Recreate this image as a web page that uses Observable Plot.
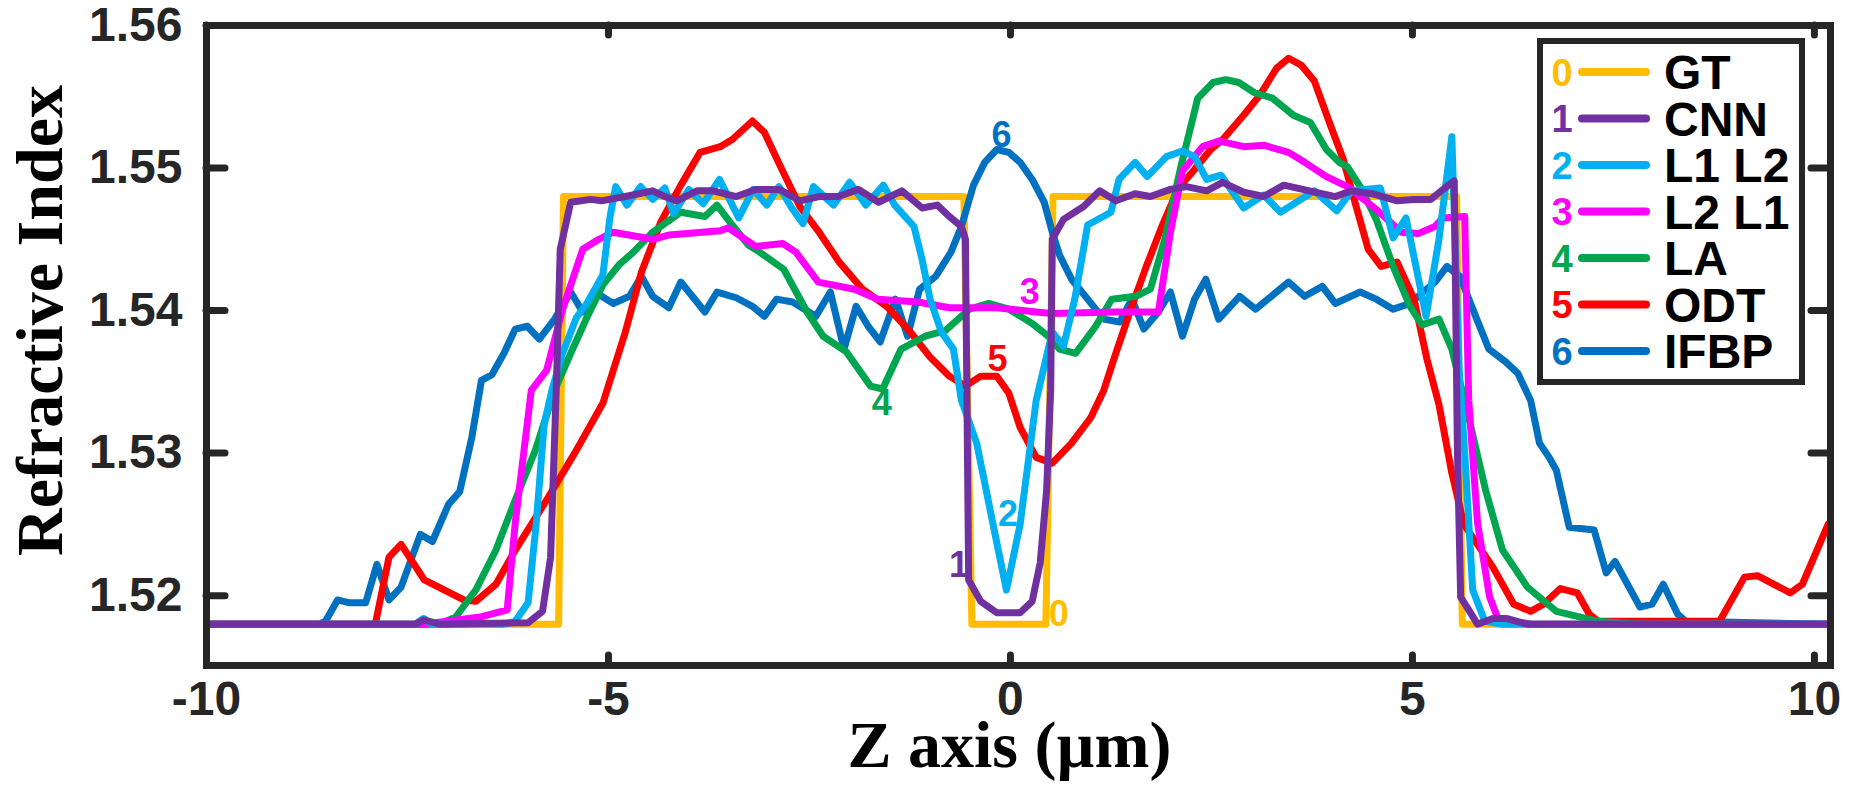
<!DOCTYPE html>
<html>
<head>
<meta charset="utf-8">
<script src="https://cdn.jsdelivr.net/npm/d3@7"></script>
<script src="https://cdn.jsdelivr.net/npm/@observablehq/plot@0.6"></script>
<style>
html, body { margin: 0; padding: 0; background: #ffffff; }
#chart svg { display: block; }
</style>
</head>
<body>
<div id="chart"></div>
<script>
// ---------- data ----------
const seriesNames   = ["GT", "CNN", "L1 L2", "L2 L1", "LA", "ODT", "IFBP"];
const seriesNumbers = ["0", "1", "2", "3", "4", "5", "6"];
const seriesColors  = ["#FFBC00", "#7030A0", "#00B0F0", "#FF00FF", "#00A550", "#FF0000", "#0070C0"];
const drawOrder     = ["GT", "IFBP", "ODT", "LA", "L2 L1", "L1 L2", "CNN"];

const xTicks = [-10, -5, 0, 5, 10];
const yTicks = [1.52, 1.53, 1.54, 1.55, 1.56];
const xTitle = "Z axis (µm)";
const yTitle = "Refractive Index";

const GT = [[-10,1.518],[-5.62,1.518],[-5.56,1.548],[-0.58,1.548],[-0.48,1.518],[0.44,1.518],[0.53,1.548],[5.55,1.548],[5.62,1.518],[10.2,1.518]];

const CNN = [[-10,1.518],[-7.4,1.518],[-7.3,1.5183],[-7.1,1.518],[-6.0,1.5181],[-5.82,1.5189],[-5.72,1.5227],[-5.65,1.5344],[-5.6,1.5443],[-5.47,1.5476],[-5.22,1.5478],[-5.09,1.5477],[-4.79,1.548],[-4.45,1.5484],[-4.3,1.548],[-4.15,1.5477],[-3.9,1.5484],[-3.7,1.5484],[-3.41,1.548],[-3.17,1.5485],[-2.87,1.5485],[-2.62,1.5477],[-2.38,1.548],[-2.14,1.548],[-1.89,1.5485],[-1.64,1.5476],[-1.35,1.5484],[-1.1,1.5472],[-0.91,1.5474],[-0.76,1.5466],[-0.61,1.5459],[-0.56,1.545],[-0.52,1.5211],[-0.37,1.5196],[-0.17,1.5188],[0.12,1.5188],[0.27,1.5196],[0.37,1.5223],[0.45,1.5274],[0.5,1.5344],[0.52,1.545],[0.66,1.5464],[0.91,1.5473],[1.11,1.5484],[1.31,1.5477],[1.55,1.5482],[1.74,1.548],[1.99,1.5485],[2.19,1.5487],[2.44,1.5484],[2.64,1.549],[2.9,1.5483],[3.15,1.548],[3.4,1.5488],[3.72,1.5484],[4.04,1.548],[4.24,1.5484],[4.5,1.5482],[4.81,1.5477],[5.02,1.5478],[5.23,1.5478],[5.38,1.5485],[5.52,1.5491],[5.56,1.53],[5.6,1.5199],[5.81,1.518],[6.0,1.5184],[6.17,1.5184],[6.43,1.518],[10.2,1.518]];

const L1L2 = [[-10,1.518],[-7.4,1.518],[-7.3,1.5184],[-7.2,1.518],[-6.3,1.518],[-6.16,1.5182],[-6.0,1.5195],[-5.9,1.525],[-5.8,1.532],[-5.7,1.5345],[-5.57,1.537],[-5.4,1.5395],[-5.27,1.5405],[-5.07,1.5425],[-4.98,1.5466],[-4.91,1.5487],[-4.77,1.5474],[-4.6,1.5487],[-4.45,1.5478],[-4.3,1.5486],[-4.19,1.5468],[-4.0,1.5485],[-3.82,1.5475],[-3.62,1.5492],[-3.38,1.5465],[-3.2,1.5485],[-3.03,1.5474],[-2.88,1.5487],[-2.72,1.5472],[-2.58,1.5461],[-2.45,1.5487],[-2.2,1.5474],[-2.0,1.549],[-1.8,1.5474],[-1.58,1.5488],[-1.44,1.5474],[-1.2,1.5459],[-1.1,1.5436],[-1.0,1.5408],[-0.86,1.5385],[-0.71,1.5373],[-0.61,1.5337],[-0.42,1.5307],[-0.22,1.5251],[-0.05,1.5204],[0.12,1.525],[0.32,1.5337],[0.52,1.5385],[0.66,1.5375],[0.8,1.5408],[0.96,1.546],[1.25,1.5469],[1.35,1.5492],[1.55,1.5504],[1.7,1.5494],[1.94,1.5508],[2.14,1.5512],[2.29,1.5508],[2.44,1.5492],[2.62,1.5495],[2.9,1.5472],[3.15,1.5481],[3.36,1.5469],[3.78,1.5484],[4.06,1.547],[4.24,1.5484],[4.6,1.5486],[4.76,1.5451],[4.92,1.5465],[5.17,1.5396],[5.33,1.545],[5.49,1.5522],[5.58,1.536],[5.65,1.53],[5.75,1.5204],[5.9,1.5182],[6.1,1.518],[10.2,1.518]];

const L2L1 = [[-10,1.518],[-7.3,1.518],[-6.6,1.5185],[-6.26,1.519],[-6.16,1.5251],[-5.96,1.5344],[-5.77,1.5358],[-5.57,1.5401],[-5.32,1.5443],[-5.12,1.545],[-4.94,1.5455],[-4.45,1.545],[-4.25,1.5453],[-3.61,1.5456],[-3.51,1.5458],[-3.17,1.5445],[-2.83,1.5447],[-2.67,1.5441],[-2.39,1.542],[-1.94,1.5415],[-1.65,1.5408],[-1.15,1.5406],[-0.76,1.5402],[-0.17,1.5402],[0.32,1.5399],[0.52,1.5398],[1.3,1.5399],[1.84,1.5399],[1.99,1.5455],[2.14,1.5498],[2.39,1.5515],[2.59,1.5519],[2.9,1.5515],[3.15,1.5516],[3.46,1.5511],[3.66,1.5504],[3.93,1.5494],[4.19,1.5487],[4.55,1.5471],[4.86,1.5455],[5.07,1.5454],[5.28,1.5459],[5.38,1.5465],[5.65,1.5466],[5.7,1.5337],[5.81,1.5251],[5.96,1.5199],[6.07,1.5183],[6.5,1.518],[10.2,1.518]];

const LA = [[-10,1.518],[-7.1,1.518],[-6.9,1.5185],[-6.65,1.5204],[-6.4,1.5232],[-6.16,1.5267],[-5.91,1.5302],[-5.67,1.5344],[-5.47,1.537],[-5.27,1.5395],[-5.07,1.5418],[-4.87,1.5432],[-4.69,1.5441],[-4.45,1.5455],[-4.1,1.5469],[-3.8,1.5466],[-3.65,1.5474],[-3.46,1.546],[-3.26,1.5446],[-3.12,1.5441],[-2.82,1.5429],[-2.53,1.5399],[-2.33,1.5382],[-2.04,1.5371],[-1.74,1.5347],[-1.59,1.5345],[-1.36,1.5373],[-1.06,1.5382],[-0.81,1.5386],[-0.51,1.5401],[-0.27,1.5405],[-0.02,1.5401],[0.27,1.5391],[0.47,1.5382],[0.61,1.5373],[0.81,1.537],[1.06,1.5389],[1.26,1.5408],[1.56,1.541],[1.74,1.5415],[1.92,1.545],[2.12,1.5501],[2.33,1.5549],[2.52,1.556],[2.68,1.5562],[2.84,1.556],[3.03,1.5553],[3.26,1.5549],[3.52,1.5537],[3.73,1.5532],[3.93,1.5513],[4.09,1.5504],[4.19,1.5501],[4.35,1.5487],[4.55,1.5464],[4.76,1.5431],[4.97,1.5403],[5.12,1.539],[5.33,1.5394],[5.49,1.5373],[5.59,1.535],[5.7,1.5325],[5.91,1.5274],[6.12,1.5232],[6.43,1.5206],[6.79,1.5189],[7.31,1.5182],[7.8,1.518],[10.2,1.518]];

const ODT = [[-10,1.518],[-7.9,1.518],[-7.73,1.5227],[-7.58,1.5236],[-7.29,1.5211],[-6.8,1.5197],[-6.65,1.5196],[-6.4,1.5208],[-6.16,1.5232],[-5.77,1.5267],[-5.42,1.53],[-5.07,1.5335],[-4.79,1.5385],[-4.59,1.5427],[-4.35,1.5462],[-4.1,1.5488],[-3.86,1.5511],[-3.61,1.5515],[-3.46,1.552],[-3.21,1.5533],[-3.06,1.5525],[-2.86,1.5501],[-2.62,1.5473],[-2.38,1.5455],[-2.13,1.5434],[-1.84,1.5415],[-1.54,1.5403],[-1.26,1.5386],[-1.01,1.5368],[-0.76,1.5354],[-0.56,1.5347],[-0.37,1.5354],[-0.17,1.5354],[-0.02,1.5342],[0.12,1.5318],[0.32,1.5297],[0.52,1.5293],[0.76,1.5307],[1.0,1.5325],[1.16,1.5344],[1.31,1.537],[1.51,1.5403],[1.69,1.5431],[1.89,1.546],[2.09,1.5486],[2.29,1.5499],[2.49,1.5513],[2.64,1.552],[2.9,1.5537],[3.1,1.5551],[3.31,1.557],[3.46,1.5577],[3.62,1.5572],[3.78,1.5561],[3.98,1.553],[4.14,1.5506],[4.3,1.5473],[4.45,1.5443],[4.61,1.5431],[4.81,1.5434],[5.02,1.5408],[5.18,1.5366],[5.33,1.5334],[5.49,1.5286],[5.64,1.525],[6.0,1.522],[6.26,1.5194],[6.47,1.5189],[6.63,1.5194],[6.84,1.5205],[7.05,1.5202],[7.2,1.5187],[7.31,1.5182],[8.82,1.5182],[9.13,1.5213],[9.29,1.5214],[9.7,1.5202],[9.85,1.5208],[10.17,1.525]];

const IFBP = [[-10,1.518],[-8.6,1.518],[-8.52,1.5182],[-8.37,1.5197],[-8.22,1.5195],[-8.02,1.5195],[-7.88,1.5222],[-7.73,1.5197],[-7.58,1.5206],[-7.34,1.5243],[-7.19,1.5238],[-6.99,1.5264],[-6.85,1.5273],[-6.7,1.5311],[-6.58,1.5351],[-6.45,1.5355],[-6.3,1.537],[-6.16,1.5387],[-6.01,1.5389],[-5.86,1.538],[-5.67,1.5394],[-5.47,1.5413],[-5.32,1.5399],[-5.17,1.5413],[-4.94,1.5405],[-4.74,1.541],[-4.59,1.5424],[-4.45,1.541],[-4.25,1.5402],[-4.1,1.542],[-3.8,1.5399],[-3.65,1.5413],[-3.41,1.5409],[-3.21,1.5403],[-3.06,1.5396],[-2.91,1.5408],[-2.71,1.5406],[-2.42,1.5396],[-2.24,1.5413],[-2.07,1.5373],[-1.92,1.5403],[-1.77,1.5389],[-1.62,1.5378],[-1.43,1.5408],[-1.28,1.5382],[-1.13,1.5415],[-0.93,1.5424],[-0.74,1.5441],[-0.61,1.5459],[-0.46,1.5488],[-0.32,1.5504],[-0.17,1.5513],[-0.02,1.5511],[0.12,1.5504],[0.27,1.5492],[0.42,1.5476],[0.52,1.5455],[0.61,1.5439],[0.76,1.5422],[0.96,1.5408],[1.16,1.5394],[1.36,1.5392],[1.51,1.5408],[1.66,1.5387],[1.84,1.5399],[1.99,1.5413],[2.14,1.5382],[2.29,1.5408],[2.43,1.5422],[2.59,1.5394],[2.85,1.541],[3.05,1.5401],[3.46,1.542],[3.66,1.541],[3.88,1.5417],[4.04,1.5405],[4.35,1.5413],[4.55,1.5408],[4.76,1.5401],[4.97,1.5405],[5.28,1.542],[5.43,1.5431],[5.59,1.5424],[5.8,1.5394],[5.95,1.5373],[6.16,1.5364],[6.31,1.5356],[6.47,1.5337],[6.58,1.5307],[6.7,1.5297],[6.79,1.5288],[6.95,1.5248],[7.26,1.5246],[7.41,1.5216],[7.52,1.5224],[7.83,1.5192],[7.98,1.5194],[8.12,1.5208],[8.3,1.5187],[8.4,1.5182],[10.2,1.518]];

// numeric tags placed next to the curves (data coordinates)
const curveTags = [
  {name: "IFBP",  num: "6", x: -0.11, y: 1.5523},
  {name: "L2 L1", num: "3", x: 0.24,  y: 1.5413},
  {name: "ODT",   num: "5", x: -0.16, y: 1.5366},
  {name: "LA",    num: "4", x: -1.6,  y: 1.5335},
  {name: "L1 L2", num: "2", x: -0.03, y: 1.5257},
  {name: "CNN",   num: "1", x: -0.64, y: 1.5221},
  {name: "GT",    num: "0", x: 0.6,   y: 1.5187}
];

// ---------- build table ----------
const seriesData = {"GT": GT, "CNN": CNN, "L1 L2": L1L2, "L2 L1": L2L1, "LA": LA, "ODT": ODT, "IFBP": IFBP};
const table = drawOrder.flatMap(name => seriesData[name].map(([x, y]) => ({name, x, y})));

// ---------- layout ----------
const W = 1855, H = 795;
const M = {top: 25, right: 25, bottom: 130, left: 206};
const frameW = W - M.left - M.right;
const frameH = H - M.top - M.bottom;
const axisColor = "#262626";
const sans = "Liberation Sans, Arial, sans-serif";
const serif = "Liberation Serif, Times New Roman, serif";

function legend(index, scales, values, dims) {
  const g = d3.create("svg:g");
  const right = dims.width - dims.marginRight - 28;
  const top = dims.marginTop + 16;
  const boxW = 262, boxH = 341, rowH = 46.5;
  const left = right - boxW;
  g.append("rect")
    .attr("x", left).attr("y", top).attr("width", boxW).attr("height", boxH)
    .attr("fill", "#ffffff").attr("stroke", axisColor).attr("stroke-width", 6);
  seriesNames.forEach((name, i) => {
    const cy = top + 31 + i * rowH;
    const color = scales.color(name);
    g.append("text")
      .attr("x", left + 22).attr("y", cy).attr("dy", "0.36em")
      .attr("text-anchor", "middle")
      .attr("font-family", sans).attr("font-weight", "bold").attr("font-size", 38)
      .attr("fill", color).text(seriesNumbers[i]);
    g.append("line")
      .attr("x1", left + 42).attr("x2", left + 106).attr("y1", cy).attr("y2", cy)
      .attr("stroke", color).attr("stroke-width", 8).attr("stroke-linecap", "round");
    g.append("text")
      .attr("x", left + 124).attr("y", cy).attr("dy", "0.36em")
      .attr("text-anchor", "start")
      .attr("font-family", sans).attr("font-weight", "bold").attr("font-size", 48)
      .attr("fill", "#000000").text(name);
  });
  return g.node();
}

const chart = Plot.plot({
  width: W,
  height: H,
  marginTop: M.top,
  marginRight: M.right,
  marginBottom: M.bottom,
  marginLeft: M.left,
  style: {background: "#ffffff", fontFamily: sans, overflow: "visible"},
  x: {domain: [-10, 10.2]},
  y: {domain: [1.5151, 1.56]},
  color: {domain: seriesNames, range: seriesColors},
  marks: [
    Plot.line(table, {
      x: "x", y: "y", z: "name", stroke: "name",
      strokeWidth: 7, strokeLinejoin: "round", strokeLinecap: "round"
    }),
    Plot.text(curveTags, {
      x: "x", y: "y", text: "num", fill: "name",
      fontSize: 36, fontWeight: "bold", fontFamily: sans,
      textAnchor: "middle", lineAnchor: "middle"
    }),
    // inward ticks (bottom, top, left, right)
    Plot.tickX(xTicks, {x: d => d, insetTop: frameH - 10, stroke: axisColor, strokeWidth: 7, strokeLinecap: "round"}),
    Plot.tickX(xTicks, {x: d => d, insetBottom: frameH - 10, stroke: axisColor, strokeWidth: 7, strokeLinecap: "round"}),
    Plot.tickY(yTicks, {y: d => d, insetRight: frameW - 19, stroke: axisColor, strokeWidth: 7, strokeLinecap: "round"}),
    Plot.tickY(yTicks, {y: d => d, insetLeft: frameW - 19, stroke: axisColor, strokeWidth: 7, strokeLinecap: "round"}),
    Plot.frame({stroke: axisColor, strokeWidth: 7}),
    Plot.axisX(xTicks, {
      anchor: "bottom", tickSize: 0, tickPadding: 15, label: null,
      tickFormat: d => String(d),
      fontSize: 48, fontWeight: "bold", fontFamily: sans, fill: axisColor
    }),
    Plot.axisY(yTicks, {
      anchor: "left", tickSize: 0, tickPadding: 24, label: null,
      tickFormat: d => d.toFixed(2),
      fontSize: 48, fontWeight: "bold", fontFamily: sans, fill: axisColor
    }),
    Plot.text([xTitle], {
      frameAnchor: "bottom", text: d => d, dx: -9, dy: 80,
      textAnchor: "middle", lineAnchor: "middle",
      fontSize: 66, fontWeight: "bold", fontFamily: serif, fill: "#000000"
    }),
    Plot.text([yTitle], {
      frameAnchor: "left", text: d => d, rotate: -90, dx: -166, dy: -25,
      textAnchor: "middle", lineAnchor: "middle",
      fontSize: 66, fontWeight: "bold", fontFamily: serif, fill: "#000000"
    }),
    legend
  ]
});

document.getElementById("chart").appendChild(chart);
</script>
</body>
</html>
